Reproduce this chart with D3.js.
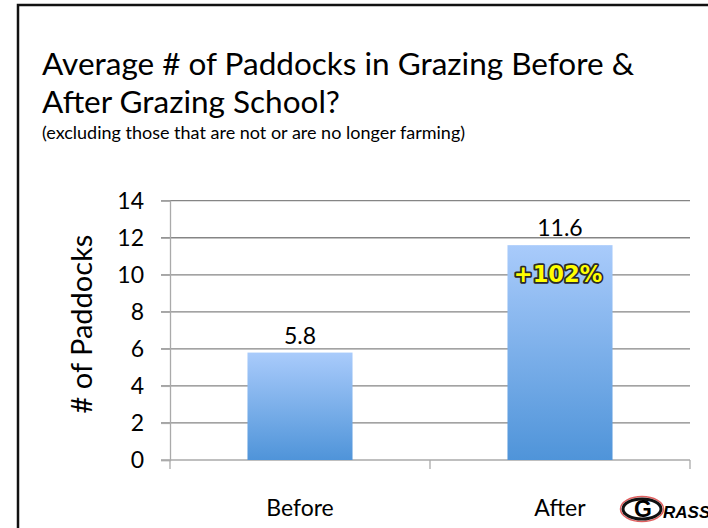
<!DOCTYPE html>
<html>
<head>
<meta charset="utf-8">
<script src="https://cdn.jsdelivr.net/npm/d3@7"></script>
<style>
  body { margin: 0; background: #fff; }
  text { font-family: Lato, "Open Sans", sans-serif; }
</style>
</head>
<body>
<div id="chart"></div>
<script>
// data
const categories = ["Before", "After"]
const values = [5.8, 11.6]
const yTicks = [0, 2, 4, 6, 8, 10, 12, 14]
const changeLabel = "+102%"

function main(){
  const width = 708
  const height = 528

  const svg = d3.select("#chart")
      .append("svg")
      .attr("width", width)
      .attr("height", height)

  // slide frame, runs off the right and bottom edges
  svg.append("rect")
      .attr("x", 18).attr("y", 5)
      .attr("width", 720).attr("height", 540)
      .attr("fill", "none")
      .attr("stroke", "#111")
      .attr("stroke-width", 2.5)

  // title + subtitle
  svg.append("text")
      .attr("x", 42).attr("y", 75)
      .style("font-size", "31.5px")
      .text("Average # of Paddocks in Grazing Before &")
  svg.append("text")
      .attr("x", 42).attr("y", 113)
      .style("font-size", "31.5px")
      .text("After Grazing School?")
  svg.append("text")
      .attr("x", 42).attr("y", 139)
      .style("font-size", "18px")
      .text("(excluding those that are not or are no longer farming)")

  // scales
  const x = d3.scaleBand()
      .domain(categories)
      .range([170, 690])
      .paddingInner(0.596)
      .paddingOuter(0.298)

  const y = d3.scaleLinear()
      .domain([0, 14])
      .range([460, 200.7])

  const gradient = svg.append("defs").append("linearGradient")
      .attr("id", "barFill")
      .attr("x1", 0).attr("y1", 0).attr("x2", 0).attr("y2", 1)
  gradient.append("stop").attr("offset", "0%").attr("stop-color", "#a9cbfb")
  gradient.append("stop").attr("offset", "100%").attr("stop-color", "#4f94d9")

  // gridlines
  svg.append("g")
      .selectAll("line")
      .data(yTicks.filter(d => d > 0))
      .join("line")
      .attr("x1", 161).attr("x2", 690)
      .attr("y1", d => y(d)).attr("y2", d => y(d))
      .attr("stroke", "#858585")
      .attr("stroke-width", 1.3)

  // y axis
  const yAxis = svg.append("g")
      .attr("transform", "translate(170,0)")
      .call(d3.axisLeft(y).tickValues(yTicks).tickSize(9).tickPadding(17))
  yAxis.select(".domain").attr("stroke", "#aaa").attr("stroke-width", 1.3)
  yAxis.selectAll(".tick line").attr("stroke", "#aaa").attr("stroke-width", 1.3)
  yAxis.selectAll(".tick text")
      .style("font-size", "23px")
      .style("font-family", "Lato, 'Open Sans', sans-serif")
      .attr("fill", "#000")

  // x axis with ticks between categories
  const xAxisG = svg.append("g")
  xAxisG.append("line")
      .attr("x1", 161).attr("x2", 690)
      .attr("y1", y(0)).attr("y2", y(0))
      .attr("stroke", "#aaa").attr("stroke-width", 1.3)
  const edges = [170, (x(categories[0]) + x(categories[1]) + x.bandwidth()) / 2, 690]
  xAxisG.selectAll("line.tk")
      .data(edges)
      .join("line")
      .attr("class", "tk")
      .attr("x1", d => d).attr("x2", d => d)
      .attr("y1", y(0)).attr("y2", y(0) + 9)
      .attr("stroke", "#aaa").attr("stroke-width", 1.3)
  xAxisG.selectAll("text")
      .data(categories)
      .join("text")
      .attr("x", d => x(d) + x.bandwidth() / 2)
      .attr("y", 516)
      .attr("text-anchor", "middle")
      .style("font-size", "23px")
      .text(d => d)

  // bars
  svg.append("g")
      .selectAll("rect")
      .data(values)
      .join("rect")
      .attr("x", (d, i) => x(categories[i]))
      .attr("width", x.bandwidth())
      .attr("y", d => y(d))
      .attr("height", d => y(0) - y(d))
      .attr("fill", "url(#barFill)")

  // value labels
  svg.append("g")
      .selectAll("text")
      .data(values)
      .join("text")
      .attr("x", (d, i) => x(categories[i]) + x.bandwidth() / 2)
      .attr("y", d => y(d) - 9)
      .attr("text-anchor", "middle")
      .style("font-size", "23px")
      .text(d => d.toFixed(1))

  // change callout on the After bar
  svg.append("text")
      .attr("x", x(categories[1]) + x.bandwidth() / 2 - 2)
      .attr("y", y(values[1]) + 37)
      .attr("text-anchor", "middle")
      .style("font-size", "22.5px")
      .style("font-weight", "bold")
      .style("font-family", "'DejaVu Sans', Verdana, sans-serif")
      .attr("fill", "#ffff00")
      .attr("stroke", "#2a2a2a")
      .attr("stroke-width", 3.5)
      .attr("stroke-linejoin", "round")
      .attr("paint-order", "stroke")
      .text(changeLabel)

  // y axis title
  svg.append("text")
      .attr("transform", "translate(92,324) rotate(-90)")
      .attr("text-anchor", "middle")
      .style("font-size", "29px")
      .text("# of Paddocks")

  // GRASS logo, cut off at the right edge
  const logo = svg.append("g").attr("transform", "translate(642,509)")
  logo.append("ellipse")
      .attr("rx", 21.5).attr("ry", 12.5)
      .attr("fill", "#fff")
      .attr("stroke", "#e06060")
      .attr("stroke-width", 1.5)
  logo.append("ellipse")
      .attr("rx", 19).attr("ry", 10)
      .attr("fill", "#fff")
      .attr("stroke", "#111")
      .attr("stroke-width", 3)
  logo.append("text")
      .attr("x", -8).attr("y", 8)
      .style("font-size", "23px")
      .style("font-weight", "bold")
      .style("font-family", "'Liberation Sans', sans-serif")
      .text("G")
  logo.append("text")
      .attr("x", 21).attr("y", 9)
      .style("font-size", "17px")
      .style("font-weight", "bold")
      .style("font-style", "italic")
      .style("font-family", "'Liberation Sans', sans-serif")
      .text("RASS")
}
main();
</script>
</body>
</html>
